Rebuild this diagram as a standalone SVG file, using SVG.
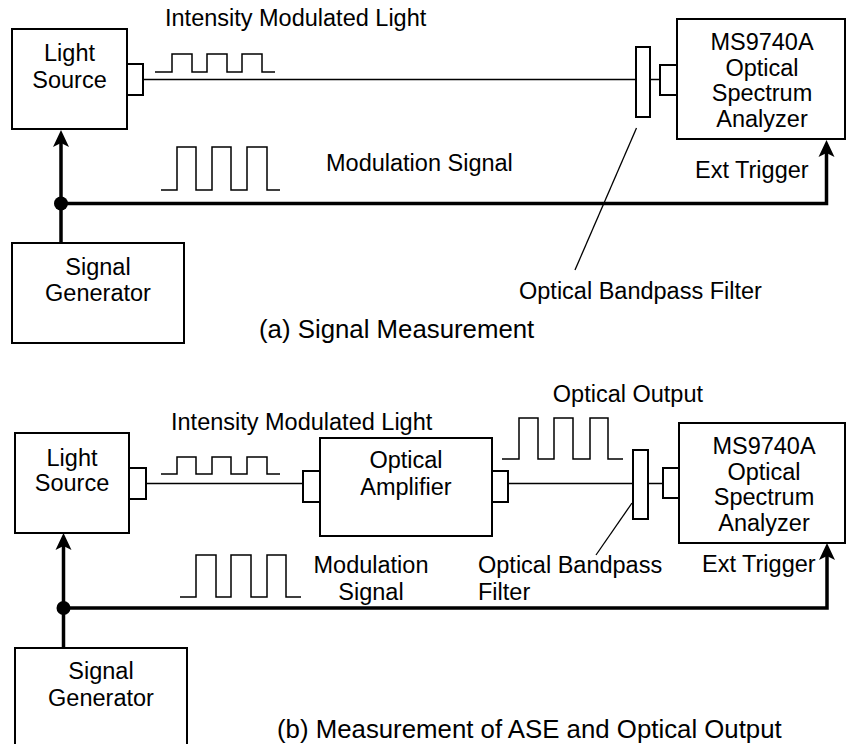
<svg xmlns="http://www.w3.org/2000/svg" xmlns:xlink="http://www.w3.org/1999/xlink" width="846" height="744" viewBox="0 0 846 744">
<style>
  text { font-family: "Liberation Sans", Arial, sans-serif; font-size: 23.5px; fill: #000; }
  .c { text-anchor: middle; }
  .e { text-anchor: end; }
  .cap { font-size: 25.8px; }
  .box { fill: #fff; stroke: #000; stroke-width: 2; }
  .stub { fill: #fff; stroke: #000; stroke-width: 2; }
  .fiber { fill: none; stroke: #000; stroke-width: 1.5; }
  .pulse { fill: none; stroke: #000; stroke-width: 1.5; }
  .sig { fill: none; stroke: #000; stroke-width: 3.5; }
  .lead { fill: none; stroke: #000; stroke-width: 1.3; }
</style>
<defs>
  <path id="ah" d="M0,0 L-8,17 L0,13 L8,17 Z" fill="#000"/>
</defs>
<rect width="846" height="744" fill="#fff"/>

<!-- ========== (a) ========== -->
<g id="connectors-a">
  <path class="fiber" d="M143,79.5 H636 M650,79.5 H660"/>
  <path class="pulse" d="M155,72 H172 V54 H192 V72 H207 V54 H227 V72 H242 V54 H262 V72 H275"/>
  <path class="pulse" d="M161,190 H177 V147 H196 V190 H212 V147 H231 V190 H247 V147 H267 V190 H280"/>
  <path class="sig" d="M61,243 V141"/>
  <use xlink:href="#ah" x="61" y="130"/>
  <path class="sig" d="M61,203.5 H826.5 V151"/>
  <use xlink:href="#ah" x="826.5" y="140"/>
  <circle cx="61" cy="203.5" r="7" fill="#000"/>
  <path class="lead" d="M636.5,128 L575,270"/>
</g>
<g id="light-source-a">
  <rect class="box" x="12" y="29" width="115" height="100"/>
  <rect class="stub" x="127" y="64" width="16" height="31"/>
  <text class="c" x="69.5" y="61">Light</text>
  <text class="c" x="69.5" y="88">Source</text>
</g>
<g id="filter-a">
  <rect class="stub" x="636" y="47" width="14" height="70"/>
</g>
<g id="osa-a">
  <rect class="box" x="677" y="19" width="168" height="120"/>
  <rect class="stub" x="660" y="65" width="17" height="30"/>
  <text class="c" x="762" y="50">MS9740A</text>
  <text class="c" x="762" y="75.5">Optical</text>
  <text class="c" x="762" y="101">Spectrum</text>
  <text class="c" x="762" y="126.5">Analyzer</text>
</g>
<g id="signal-generator-a">
  <rect class="box" x="12" y="243" width="172" height="100"/>
  <text class="c" x="98" y="275">Signal</text>
  <text class="c" x="98" y="301">Generator</text>
</g>
<g id="labels-a">
  <text x="165" y="26">Intensity Modulated Light</text>
  <text x="326" y="171">Modulation Signal</text>
  <text x="695" y="178">Ext Trigger</text>
  <text x="519" y="299">Optical Bandpass Filter</text>
  <text class="cap" x="259" y="338">(a) Signal Measurement</text>
</g>

<!-- ========== (b) ========== -->
<g id="connectors-b">
  <path class="fiber" d="M146,483.5 H303 M508,483.5 H633 M648,483.5 H663"/>
  <path class="pulse" d="M161,474 H177 V457 H196 V474 H212 V457 H231 V474 H247 V457 H267 V474 H280"/>
  <path class="pulse" d="M502,459 H519 V418 H538 V459 H554 V418 H573 V459 H590 V418 H608 V459 H623"/>
  <path class="pulse" d="M180,597 H196 V555 H216 V597 H231 V555 H251 V597 H267 V555 H286 V597 H301"/>
  <path class="sig" d="M63.5,648 V544"/>
  <use xlink:href="#ah" x="63.5" y="533"/>
  <path class="sig" d="M63.5,608 H827 V554"/>
  <use xlink:href="#ah" x="827" y="543"/>
  <circle cx="63.5" cy="608" r="7" fill="#000"/>
  <path class="lead" d="M632,503 L596,555"/>
</g>
<g id="light-source-b">
  <rect class="box" x="15" y="433" width="114" height="100"/>
  <rect class="stub" x="129" y="468" width="17" height="31"/>
  <text class="c" x="72" y="465.5">Light</text>
  <text class="c" x="72" y="491">Source</text>
</g>
<g id="optical-amplifier">
  <rect class="box" x="320" y="438" width="172" height="98"/>
  <rect class="stub" x="303" y="471" width="17" height="31"/>
  <rect class="stub" x="492" y="471" width="16" height="31"/>
  <text class="c" x="406" y="467.5">Optical</text>
  <text class="c" x="406" y="495">Amplifier</text>
</g>
<g id="filter-b">
  <rect class="stub" x="633" y="450" width="15" height="69"/>
</g>
<g id="osa-b">
  <rect class="box" x="679" y="423" width="166" height="120"/>
  <rect class="stub" x="663" y="468" width="16" height="30"/>
  <text class="c" x="764" y="453.5">MS9740A</text>
  <text class="c" x="764" y="479.5">Optical</text>
  <text class="c" x="764" y="505">Spectrum</text>
  <text class="c" x="764" y="531">Analyzer</text>
</g>
<g id="signal-generator-b">
  <rect class="box" x="15" y="648" width="172" height="120"/>
  <text class="c" x="101" y="678.5">Signal</text>
  <text class="c" x="101" y="706">Generator</text>
</g>
<g id="labels-b">
  <text x="171" y="430">Intensity Modulated Light</text>
  <text class="e" x="703" y="401.5">Optical Output</text>
  <text class="c" x="371" y="573">Modulation</text>
  <text class="c" x="371" y="600">Signal</text>
  <text x="478" y="573">Optical Bandpass</text>
  <text x="478" y="600">Filter</text>
  <text x="702" y="571.5">Ext Trigger</text>
  <text class="cap" x="277" y="738">(b) Measurement of ASE and Optical Output</text>
</g>
</svg>
